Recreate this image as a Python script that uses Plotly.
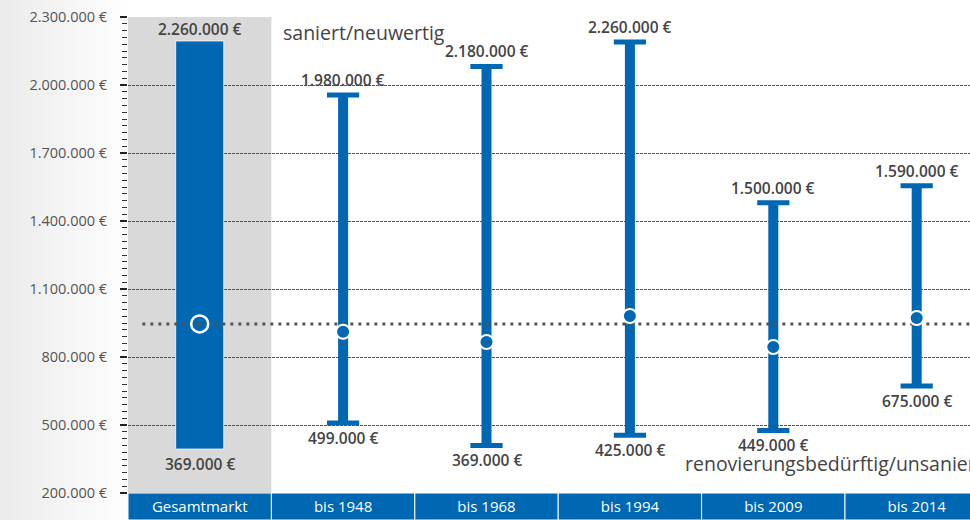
import plotly.graph_objects as go

# ---- data ----
categories = ["Gesamtmarkt", "bis 1948", "bis 1968", "bis 1994", "bis 2009", "bis 2014"]
low_values = [394000, 509000, 410000, 455000, 476000, 672000]
high_values = [2194000, 1956000, 2082000, 2190000, 1480000, 1555000]
mid_values = [946000, 911000, 866000, 981000, 844000, 972000]
mean_value = 946000
low_labels = ["369.000 €", "499.000 €", "369.000 €", "425.000 €", "449.000 €", "675.000 €"]
high_labels = ["2.260.000 €", "1.980.000 €", "2.180.000 €", "2.260.000 €", "1.500.000 €", "1.590.000 €"]
y_ticks = [200000, 500000, 800000, 1100000, 1400000, 1700000, 2000000, 2300000]
y_tick_labels = ["200.000 €", "500.000 €", "800.000 €", "1.100.000 €", "1.400.000 €",
                 "1.700.000 €", "2.000.000 €", "2.300.000 €"]
top_note = "saniert/neuwertig"
bottom_note = "renovierungsbedürftig/unsaniert"

# ---- style ----
BLUE = "#0067b2"
TXT = "#444444"
FONT = "Open Sans"
W, H = 970, 520
ML, MR, MT, MB = 128, 0, 17, 27
PW, PH = W - ML - MR, H - MT - MB
CAT_W = 143.4
x_end = -0.5 + PW / CAT_W

idx = list(range(len(categories)))
fig = go.Figure()

# Gesamtmarkt bar
fig.add_trace(go.Bar(
    x=[idx[0]], y=[high_values[0] - low_values[0]], base=[low_values[0]],
    width=0.335, marker=dict(color=BLUE, line=dict(color="rgba(255,255,255,0.75)", width=1)),
    hoverinfo="skip", showlegend=False))

# whisker stems
fig.add_trace(go.Bar(
    x=idx[1:], y=[h - l for h, l in zip(high_values[1:], low_values[1:])], base=low_values[1:],
    width=10 / CAT_W, marker=dict(color=BLUE, line=dict(width=0)),
    hoverinfo="skip", showlegend=False))

# whisker caps
fig.add_trace(go.Scatter(
    x=idx[1:] + idx[1:], y=low_values[1:] + high_values[1:], mode="markers",
    marker=dict(symbol="line-ew", size=23, color=BLUE, line=dict(color=BLUE, width=5)),
    hoverinfo="skip", showlegend=False))

# mean line
fig.add_trace(go.Scatter(
    x=[-0.4, x_end + 0.2], y=[mean_value, mean_value], mode="lines",
    line=dict(color="#555555", width=3, dash="3px,5px"),
    hoverinfo="skip", showlegend=False))

# Gesamtmarkt ring
fig.add_trace(go.Scatter(
    x=[idx[0]], y=[mid_values[0]], mode="markers",
    marker=dict(symbol="circle-open", size=17, color="white", line=dict(color="white", width=2.5)),
    hoverinfo="skip", showlegend=False))

# category dots
fig.add_trace(go.Scatter(
    x=idx[1:], y=mid_values[1:], mode="markers",
    marker=dict(symbol="circle", size=14, color=BLUE, line=dict(color="white", width=2)),
    hoverinfo="skip", showlegend=False))

shapes = []
# left gradient
n = 40
for i in range(n):
    px0 = i * ML / n
    px1 = (i + 1) * ML / n + 0.5
    t = i / (n - 1)
    c = int(round(235 + (254 - 235) * t))
    shapes.append(dict(type="rect", xref="paper", yref="paper",
                       x0=(px0 - ML) / PW, x1=min((px1 - ML) / PW, 0), y0=-MB / PH, y1=1 + MT / PH,
                       fillcolor=f"rgb({c},{c},{c})", line=dict(width=0), layer="below"))
# gray band
shapes.append(dict(type="rect", xref="x", yref="y", x0=-0.5, x1=0.5,
                   y0=y_ticks[0], y1=y_ticks[-1], fillcolor="#d9d9d9", line=dict(width=0), layer="below"))
# category strip
for i in idx:
    shapes.append(dict(type="rect", xref="x", yref="paper", x0=i - 0.5, x1=i + 0.5,
                       y0=-MB / PH, y1=0, fillcolor=BLUE, line=dict(color="white", width=1),
                       layer="below"))

annotations = []
for i in idx:
    up = 12 if i == 0 else 15
    annotations.append(dict(x=i, y=high_values[i], xref="x", yref="y", text=high_labels[i],
                            showarrow=False, yshift=up,
                            font=dict(family=FONT, size=15.5, color=TXT, weight=600)))
    annotations.append(dict(x=i, y=low_values[i], xref="x", yref="y", text=low_labels[i],
                            showarrow=False, yshift=-15,
                            font=dict(family=FONT, size=15.5, color=TXT, weight=600)))
annotations.append(dict(x=(281 - ML) / PW, y=1 - (32 - MT) / PH, xref="paper", yref="paper",
                        text=top_note, showarrow=False, xanchor="left", yanchor="middle",
                        font=dict(family=FONT, size=19.5, color=TXT, weight=500)))
annotations.append(dict(x=(683 - ML) / PW, y=1 - (463 - MT) / PH, xref="paper", yref="paper",
                        text=bottom_note, showarrow=False, xanchor="left", yanchor="middle",
                        font=dict(family=FONT, size=19.5, color=TXT, weight=500)))

fig.update_layout(
    width=W, height=H, margin=dict(l=ML, r=MR, t=MT, b=MB),
    paper_bgcolor="white", plot_bgcolor="rgba(0,0,0,0)",
    barmode="overlay", showlegend=False,
    shapes=shapes, annotations=annotations,
    xaxis=dict(range=[-0.5, x_end], showgrid=False, zeroline=False,
               tickmode="array", tickvals=idx, ticktext=categories, ticks="",
               ticklabelstandoff=3,
               tickfont=dict(family=FONT, size=15, color="white"),
               showline=False, fixedrange=True),
    yaxis=dict(range=[y_ticks[0], y_ticks[-1]], tickmode="array", tickvals=y_ticks,
               ticktext=y_tick_labels, showgrid=True, gridcolor="#555555", gridwidth=0.7,
               griddash="3px,1px", zeroline=False, showline=False,
               ticks="outside", ticklen=7, tickwidth=1.5, tickcolor="#222222",
               ticklabelstandoff=10,
               tickfont=dict(family=FONT, size=14.5, color="#555555"),
               minor=dict(tickmode="linear", tick0=y_ticks[0], dtick=30000, ticks="outside",
                          ticklen=5, tickwidth=1.2, tickcolor="#333333", showgrid=False),
               fixedrange=True),
)

fig.write_html("out.html")
